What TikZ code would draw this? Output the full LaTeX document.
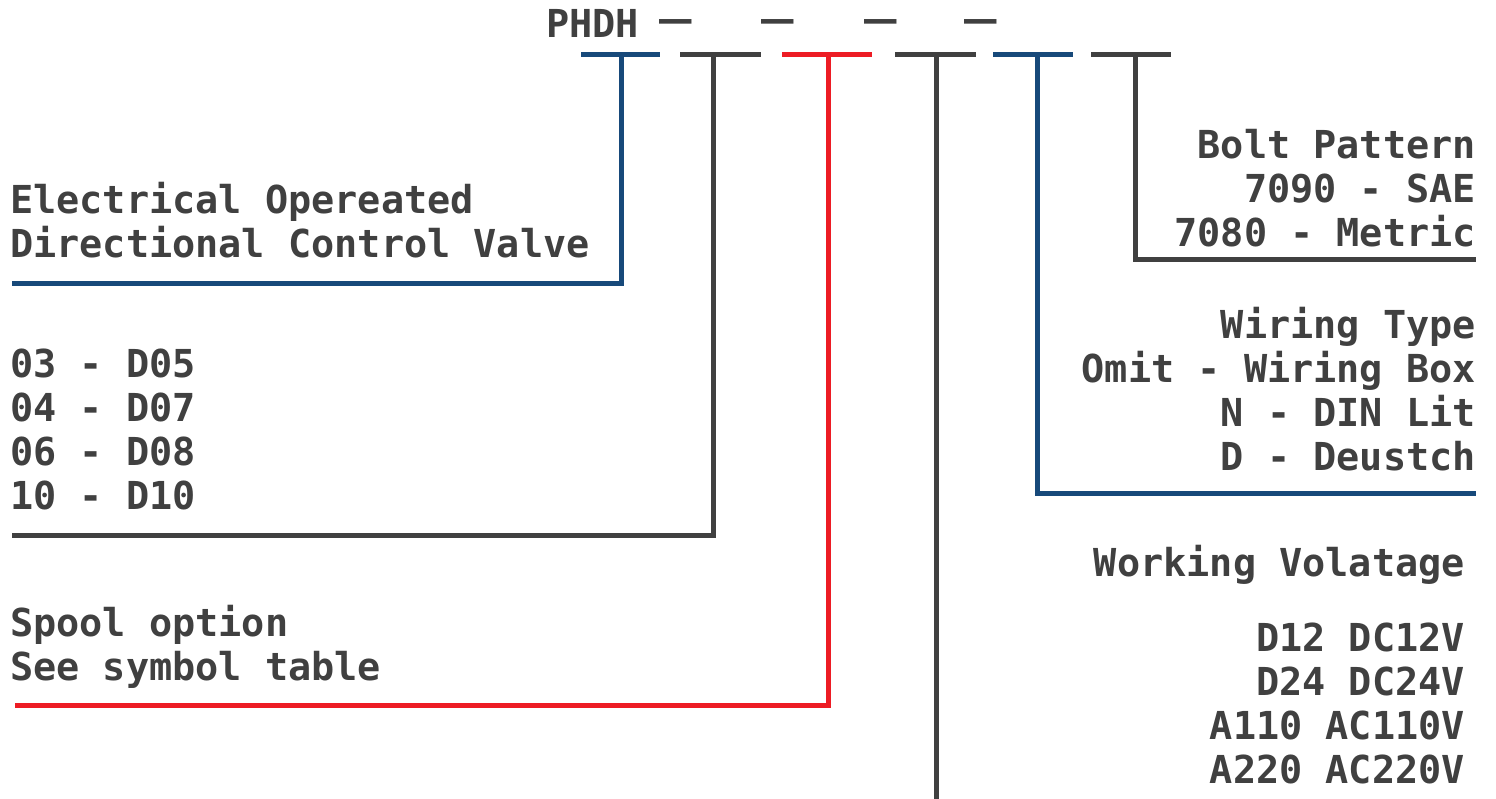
\documentclass[tikz,border=0pt]{standalone}
\usepackage{fontspec}
\usepackage{graphicx}
\setmonofont{DejaVu Sans Mono}
\usetikzlibrary{positioning}

\definecolor{codegray}{HTML}{404040}
\definecolor{codeblue}{HTML}{17497A}
\definecolor{codered}{HTML}{ED1C24}

\tikzset{
	lbl/.style = {font=\ttfamily\bfseries\fontsize{38.5}{44}\selectfont, text=codegray, inner sep=0pt},
	lblleft/.style = {lbl, anchor=base west, align=left},
	lblright/.style = {lbl, anchor=base east, align=right},
	lead/.style = {line width=5pt},
}

\newcommand{\codedash}{\scalebox{1.4}[1]{—}}

\begin{document}
\begin{tikzpicture}[x=1pt, y=-1pt]
					\useasboundingbox (0,0) rectangle (1496,799);

					\node [lbl, anchor=base west] (code) at (546,38) {PHDH};
					\node [lbl] (dsha) at (676,26) {\codedash};
					\node [lbl] (dshb) at (778,26) {\codedash};
					\node [lbl] (dshc) at (881,26) {\codedash};
					\node [lbl] (dshd) at (981,26) {\codedash};

					\coordinate (ua) at (581,55);   \coordinate (ub) at (660,55);
					\coordinate (uc) at (680,55);   \coordinate (ud) at (761,55);
					\coordinate (ue) at (782,55);   \coordinate (uf) at (872,55);
					\coordinate (ug) at (895,55);   \coordinate (uh) at (976,55);
					\coordinate (ui) at (993,55);   \coordinate (uj) at (1073,55);
					\coordinate (uk) at (1091,55);  \coordinate (ul) at (1171,55);

					\coordinate (tval) at (621,55);  \coordinate (cval) at (621,284);  \coordinate (eval) at (12,284);
					\coordinate (tsiz) at (713,55);  \coordinate (csiz) at (713,535);  \coordinate (esiz) at (12,535);
					\coordinate (tspl) at (828,55);  \coordinate (cspl) at (828,705);  \coordinate (espl) at (15,705);
					\coordinate (tvlt) at (936,55);  \coordinate (evlt) at (936,799);
					\coordinate (twir) at (1037,55); \coordinate (cwir) at (1037,493); \coordinate (ewir) at (1476,493);
					\coordinate (tblt) at (1135,55); \coordinate (cblt) at (1135,260); \coordinate (eblt) at (1476,260);

					\draw [lead,codeblue] (ua) -- (ub);
					\draw [lead,codegray] (uc) -- (ud);
					\draw [lead,codered] (ue) -- (uf);
					\draw [lead,codegray] (ug) -- (uh);
					\draw [lead,codeblue] (ui) -- (uj);
					\draw [lead,codegray] (uk) -- (ul);

					\draw [lead,codeblue] (tval) -- (cval) -- (eval);
					\draw [lead,codegray] (tsiz) -- (csiz) -- (esiz);
					\draw [lead,codered] (tspl) -- (cspl) -- (espl);
					\draw [lead,codegray] (tvlt) -- (evlt);
					\draw [lead,codeblue] (twir) -- (cwir) -- (ewir);
					\draw [lead,codegray] (tblt) -- (cblt) -- (eblt);

					\node [lblleft] (valve) at (10,258) {Electrical Opereated\\Directional Control Valve};
					\node [lblleft] (size) at (10,509) {03 - D05\\04 - D07\\06 - D08\\10 - D10};
					\node [lblleft] (spool) at (10,680) {Spool option\\See symbol table};

					\node [lblright] (bolt) at (1476,247) {Bolt Pattern\\7090 - SAE\\7080 - Metric};
					\node [lblright] (wire) at (1476,470) {Wiring Type\\Omit - Wiring Box\\N - DIN Lit\\D - Deustch};
					\node [lblright] (volt) at (1465,576) {Working Volatage};
					\node [lblright] (vlist) at (1465,783) {D12 DC12V\\D24 DC24V\\A110 AC110V\\A220 AC220V};
				\end{tikzpicture}
\end{document}
